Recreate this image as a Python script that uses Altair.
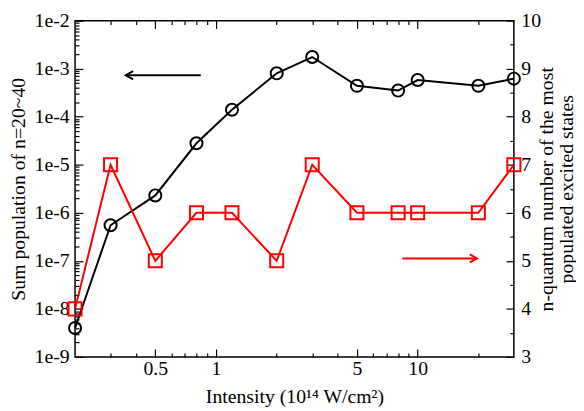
import altair as alt
import pandas as pd

# ---- data ----
intensity = [0.2, 0.3, 0.5, 0.8, 1.2, 2, 3, 5, 8, 10, 20, 30]
population = [4.0e-9, 5.5e-7, 2.3e-6, 2.8e-5, 1.4e-4, 8.0e-4, 1.75e-3,
              4.4e-4, 3.5e-4, 5.8e-4, 4.4e-4, 6.2e-4]
n_quantum = [4, 7, 5, 6, 6, 5, 7, 6, 6, 6, 6, 7]

x_major = [0.5, 1, 5, 10]
x_minor = [0.3, 0.4, 0.6, 0.7, 0.8, 0.9, 2, 3, 4, 6, 7, 8, 9, 20]
y_left_major = [1e-9, 1e-8, 1e-7, 1e-6, 1e-5, 1e-4, 1e-3, 1e-2]
y_left_minor = [k * 10.0 ** e for e in range(-9, -2) for k in range(2, 10)]
y_right_major = [3, 4, 5, 6, 7, 8, 9, 10]
y_right_minor = [3.5, 4.5, 5.5, 6.5, 7.5, 8.5, 9.5]

# annotation arrows (data coordinates)
black_arrow_x = [0.357, 0.84]
black_arrow_y = [7.3e-4]
red_arrow_x = [8.4, 19.7]
red_arrow_y = [5.05]

FONT = "Liberation Serif"
FS = 20

black_df = pd.DataFrame({"intensity": intensity, "population": population})
red_df = pd.DataFrame({"intensity": intensity, "nq": n_quantum})
barrow_df = pd.DataFrame({"xa": [black_arrow_x[0]], "xb": [black_arrow_x[1]], "y": black_arrow_y})
rarrow_df = pd.DataFrame({"xa": [red_arrow_x[0]], "xb": [red_arrow_x[1]], "y": red_arrow_y})


def xs():
    return alt.Scale(type="log", domain=[0.2, 30], nice=False)


def yls():
    return alt.Scale(type="log", domain=[1e-9, 1e-2], nice=False)


def yrs():
    return alt.Scale(type="linear", domain=[3, 10], nice=False, zero=False)


MAJ = 8
MIN = 4

x_axis_main = alt.Axis(values=x_major, format="~g", offset=-MAJ, tickSize=MAJ,
                       labelPadding=2, title="Intensity (10¹⁴ W/cm²)", titlePadding=8,
                       domain=False, grid=False, orient="bottom")
y_axis_left = alt.Axis(values=y_left_major, format=".0e", offset=-MAJ, tickSize=MAJ,
                       labelPadding=6, title="Sum population of n=20~40", titlePadding=6,
                       domain=False, grid=False, orient="left")
y_axis_right = alt.Axis(values=y_right_major, format="d", offset=-MAJ, tickSize=MAJ,
                        labelPadding=7, orient="right",
                        title=["n-quantum number of the most", "populated excited states"],
                        titleAngle=270, titlePadding=-4, titleLineHeight=20,
                        domain=False, grid=False)


def tick_axis(values, size, orient):
    return alt.Axis(values=values, offset=-size, tickSize=size, labels=False,
                    title=None, domain=False, grid=False, orient=orient)


black_line = alt.Chart(black_df).mark_line(color="black", strokeWidth=2).encode(
    x=alt.X("intensity:Q", scale=xs(), axis=x_axis_main),
    y=alt.Y("population:Q", scale=yls(), axis=y_axis_left),
)
black_pts = alt.Chart(black_df).mark_point(shape="circle", filled=False, size=150,
                                           strokeWidth=2, color="black", opacity=1).encode(
    x=alt.X("intensity:Q", scale=xs(), axis=tick_axis(x_minor, MIN, "bottom")),
    y=alt.Y("population:Q", scale=yls(), axis=tick_axis(y_left_minor, MIN, "left")),
)
barrow_rule = alt.Chart(barrow_df).mark_rule(color="black", strokeWidth=2).encode(
    x=alt.X("xa:Q", scale=xs(), axis=tick_axis(x_major, MAJ, "top")), x2="xb:Q",
    y=alt.Y("y:Q", scale=yls(), axis=None),
)
barrow_head = alt.Chart(barrow_df).mark_point(shape="M 1 -0.55 L 0 0 L 1 0.55", filled=False,
                                              size=220, strokeWidth=2, color="black",
                                              opacity=1).encode(
    x=alt.X("xa:Q", scale=xs(), axis=tick_axis(x_minor, MIN, "top")),
    y=alt.Y("y:Q", scale=yls(), axis=None),
)
red_line = alt.Chart(red_df).mark_line(color="#ff0000", strokeWidth=2).encode(
    x=alt.X("intensity:Q", scale=xs(), axis=None),
    y=alt.Y("nq:Q", scale=yrs(), axis=y_axis_right),
)
red_pts = alt.Chart(red_df).mark_point(shape="square", filled=False, size=175,
                                       strokeWidth=2, color="#ff0000", opacity=1).encode(
    x=alt.X("intensity:Q", scale=xs(), axis=None),
    y=alt.Y("nq:Q", scale=yrs(), axis=tick_axis(y_right_minor, MIN, "right")),
)
rarrow_rule = alt.Chart(rarrow_df).mark_rule(color="#ff0000", strokeWidth=2).encode(
    x=alt.X("xa:Q", scale=xs(), axis=None), x2="xb:Q",
    y=alt.Y("y:Q", scale=yrs(), axis=None),
)
rarrow_head = alt.Chart(rarrow_df).mark_point(shape="M -1 -0.55 L 0 0 L -1 0.55", filled=False,
                                              size=220, strokeWidth=2, color="#ff0000",
                                              opacity=1).encode(
    x=alt.X("xb:Q", scale=xs(), axis=None),
    y=alt.Y("y:Q", scale=yrs(), axis=None),
)

chart = alt.layer(
    black_line, black_pts, barrow_rule, barrow_head,
    red_line, red_pts, rarrow_rule, rarrow_head,
).resolve_scale(
    y="independent"
).resolve_axis(
    x="independent", y="independent"
).properties(
    width=576, height=401,
    autosize=alt.AutoSizeParams(type="fit", contains="padding"),
    padding={"left": 0, "top": 0, "right": 0, "bottom": 0},
    background="white",
).configure_view(
    stroke="black", strokeWidth=1.5
).configure_axis(
    labelFont=FONT, titleFont=FONT, labelFontSize=FS, titleFontSize=FS,
    titleFontWeight="normal", labelColor="black", titleColor="black",
    tickColor="black", tickWidth=1.2,
)

chart.save("out.html", embed_options={"renderer": "svg", "actions": False})
